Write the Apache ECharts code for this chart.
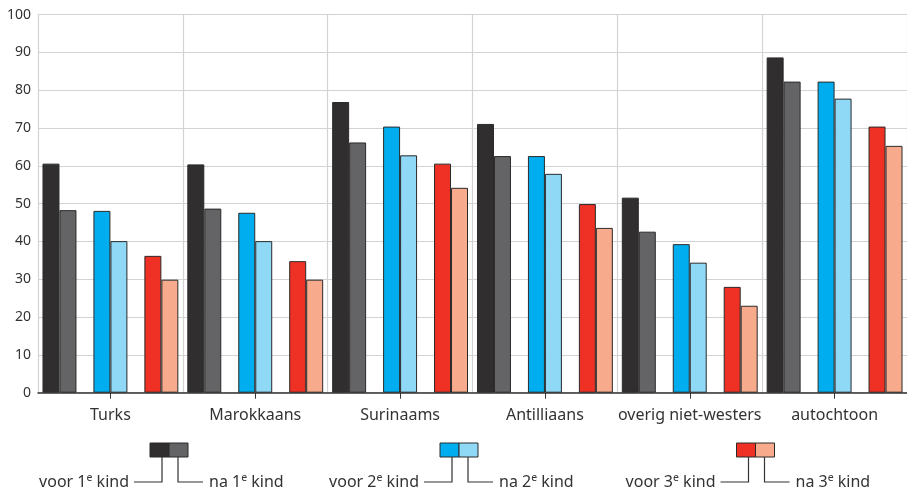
<!DOCTYPE html>
<html>
<head>
<meta charset="utf-8">
<script src="https://cdn.jsdelivr.net/npm/echarts@6/dist/echarts.min.js"></script>
<style>html,body{margin:0;padding:0;background:#fff}#c{width:907px;height:491px}</style>
</head>
<body>
<div id="c"></div>
<script>
const categories = ['Turks', 'Marokkaans', 'Surinaams', 'Antilliaans', 'overig niet-westers', 'autochtoon'];
const voor1 = [60.6, 60.4, 76.9, 71.1, 51.6, 88.7];
const na1   = [48.3, 48.7, 66.2, 62.6, 42.6, 82.3];
const voor2 = [48.1, 47.6, 70.4, 62.6, 39.3, 82.3];
const na2   = [40.1, 40.1, 62.8, 57.9, 34.4, 77.8];
const voor3 = [36.2, 34.8, 60.6, 49.9, 28.0, 70.4];
const na3   = [29.9, 29.9, 54.2, 43.6, 23.0, 65.3];
const yTicks = [0, 10, 20, 30, 40, 50, 60, 70, 80, 90, 100];

const colors = {
  voor1: '#302e2f', na1: '#646466',
  voor2: '#00aeef', na2: '#8fd8f6',
  voor3: '#ee3124', na3: '#f8ab8c'
};
const FONT = '"Noto Sans", sans-serif';
const TXT = '#333333';

function barSeries(name, data, color) {
  return {
    name: name, type: 'bar', data: data,
    itemStyle: { color: color, borderColor: '#2a2a2a', borderWidth: 1 },
    barGap: '0%', barCategoryGap: '6.2%', silent: true
  };
}
function spacer(name) {
  return {
    name: name, type: 'bar', data: categories.map(() => '-'),
    barGap: '0%', barCategoryGap: '6.2%', silent: true
  };
}

const chart = echarts.init(document.getElementById('c'), null, { renderer: 'canvas' });

function legendGroup(x0, cLeft, cRight, num) {
  const sqW = 19, sqTop = 443, sqH = 14, lineY = 482;
  const vL = x0 + 12, vR = x0 + sqW + 9;
  const rich = { a: { fontFamily: FONT, fontSize: 16, fill: TXT, lineHeight: 19 },
                 s: { fontFamily: FONT, fontSize: 10.5, fill: TXT, lineHeight: 19, verticalAlign: 'top', padding: [0, 0, 6, 0] } };
  return [
    { type: 'rect', shape: { x: x0, y: sqTop, width: sqW, height: sqH },
      style: { fill: cLeft, stroke: '#2a2a2a', lineWidth: 1 } },
    { type: 'rect', shape: { x: x0 + sqW, y: sqTop, width: sqW, height: sqH },
      style: { fill: cRight, stroke: '#2a2a2a', lineWidth: 1 } },
    { type: 'polyline', shape: { points: [[vL, sqTop + sqH], [vL, lineY], [vL - 28, lineY]] },
      style: { stroke: '#333', lineWidth: 1.2, fill: null } },
    { type: 'polyline', shape: { points: [[vR, sqTop + sqH], [vR, lineY], [vR + 25, lineY]] },
      style: { stroke: '#333', lineWidth: 1.2, fill: null } },
    { type: 'text', x: vL - 33, y: lineY, style: {
        text: '{a|voor ' + num + '}{s|e}{a| kind}', align: 'right', verticalAlign: 'middle', rich: rich } },
    { type: 'text', x: vR + 31, y: lineY, style: {
        text: '{a|na ' + num + '}{s|e}{a| kind}', align: 'left', verticalAlign: 'middle', rich: rich } }
  ];
}

const option = {
  animation: false,
  backgroundColor: '#ffffff',
  grid: { left: 38, right: 0, top: 14.7, bottom: 98.3, containLabel: false },
  xAxis: {
    type: 'category', data: categories, boundaryGap: true,
    axisLine: { show: true, lineStyle: { color: '#333', width: 1.5 } },
    axisTick: { show: true, alignWithLabel: true, length: 6, lineStyle: { color: '#333', width: 1 } },
    axisLabel: { color: TXT, fontFamily: FONT, fontSize: 16, margin: 15, interval: 0 },
    splitLine: { show: true, showMinLine: true, showMaxLine: true, lineStyle: { color: '#d3d3d3', width: 1.2 } },
    z: 10
  },
  yAxis: {
    type: 'value', min: yTicks[0], max: yTicks[yTicks.length - 1], interval: 10,
    axisLine: { show: false }, axisTick: { show: false },
    axisLabel: { color: TXT, fontFamily: FONT, fontSize: 14, margin: 7 },
    splitLine: { show: true, lineStyle: { color: '#d3d3d3', width: 1.2 } }
  },
  series: [
    barSeries('voor 1e kind', voor1, colors.voor1),
    barSeries('na 1e kind', na1, colors.na1),
    spacer('sp1'),
    barSeries('voor 2e kind', voor2, colors.voor2),
    barSeries('na 2e kind', na2, colors.na2),
    spacer('sp2'),
    barSeries('voor 3e kind', voor3, colors.voor3),
    barSeries('na 3e kind', na3, colors.na3)
  ],
  graphic: [].concat(
    legendGroup(150, colors.voor1, colors.na1, 1),
    legendGroup(440, colors.voor2, colors.na2, 2),
    legendGroup(736.5, colors.voor3, colors.na3, 3)
  )
};
chart.setOption(option);
</script>
</body>
</html>
